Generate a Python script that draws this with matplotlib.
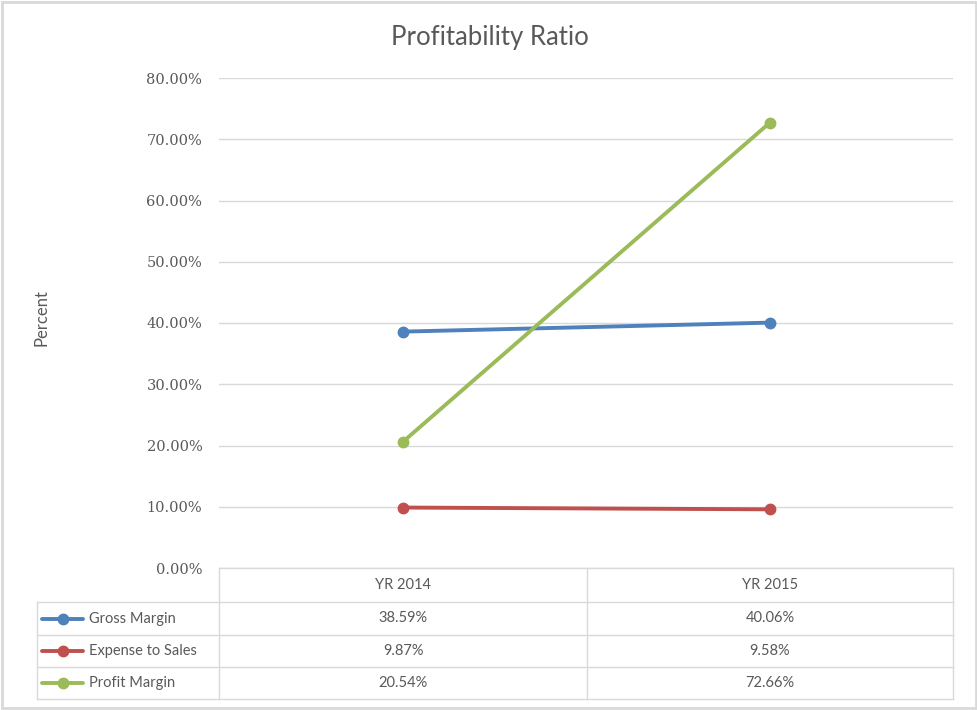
import matplotlib
matplotlib.use("Agg")
import matplotlib.pyplot as plt
from matplotlib.patches import Rectangle

# ---- data ----
categories = ["YR 2014", "YR 2015"]
gross_margin = [38.59, 40.06]
expense_to_sales = [9.87, 9.58]
profit_margin = [20.54, 72.66]
series_names = ["Gross Margin", "Expense to Sales", "Profit Margin"]
series_values = [gross_margin, expense_to_sales, profit_margin]
series_colors = ["#4F81BD", "#C0504D", "#9BBB59"]
y_ticks = [0, 10, 20, 30, 40, 50, 60, 70, 80]

W, H = 978, 710
fig = plt.figure(figsize=(W / 100, H / 100), dpi=100)
fig.patch.set_facecolor("white")

# overlay axes in pixel coordinates for borders and table
ov = fig.add_axes([0, 0, 1, 1], zorder=0)
ov.set_xlim(0, W)
ov.set_ylim(H, 0)
ov.axis("off")

grid_c = "#D9D9D9"
text_c = "#595959"

# outer border
ov.add_patch(Rectangle((1.5, 1.5), W - 3.5, H - 3.5, fill=False, ec=grid_c, lw=2))

# plot area
L, R, T, B = 219, 953, 78, 568
ax = fig.add_axes([L / W, (H - B) / H, (R - L) / W, (B - T) / H], zorder=2)
ax.set_facecolor("none")
x = list(range(len(categories)))
for name, vals, col in zip(series_names, series_values, series_colors):
    ax.plot(x, vals, color=col, lw=2.8, marker="o", ms=7.5, solid_capstyle="round", zorder=3)
ax.set_xlim(-0.5, len(categories) - 0.5)
ax.set_ylim(0, 80)
ax.set_yticks(y_ticks)
ax.set_yticklabels([f"{v:.2f}%" for v in y_ticks], family="DejaVu Serif", fontsize=10.5, color=text_c)
ax.set_xticks([])
ax.tick_params(axis="y", length=0, pad=12)
ax.grid(axis="y", color=grid_c, lw=1)
for s in ["top", "right", "left"]:
    ax.spines[s].set_visible(False)
ax.spines["bottom"].set_color(grid_c)
ax.spines["bottom"].set_linewidth(1)
ax.set_axisbelow(True)

# title and y label
fig.text(490 / W, 1 - 38 / H, "Profitability Ratio", ha="center", va="center",
         family="Lato", fontsize=18.5, color=text_c)
fig.text(42 / W, 1 - 318 / H, "Percent", rotation=90, ha="center", va="center",
         family="Lato", fontsize=12, color=text_c)

# data table
row_edges = [568, 602, 635, 667, 699]
col_edges = [219, 587, 953]
leg_left = 37
lw = 1
for cx in col_edges:
    ov.plot([cx, cx], [row_edges[0], row_edges[-1]], color=grid_c, lw=lw)
ov.plot([leg_left, leg_left], [row_edges[1], row_edges[-1]], color=grid_c, lw=lw)
for ry in row_edges[1:]:
    ov.plot([leg_left, col_edges[-1]], [ry, ry], color=grid_c, lw=lw)

tfont = dict(family="Lato", fontsize=10.5, color=text_c)
col_centers = [(col_edges[i] + col_edges[i + 1]) / 2 for i in range(len(categories))]
hdr_y = (row_edges[0] + row_edges[1]) / 2
for cx, cat in zip(col_centers, categories):
    ov.text(cx, hdr_y, cat, ha="center", va="center", **tfont)
for i, (name, vals, col) in enumerate(zip(series_names, series_values, series_colors)):
    ry = (row_edges[i + 1] + row_edges[i + 2]) / 2
    ov.plot([42, 83], [ry, ry], color=col, lw=2.8, solid_capstyle="round")
    ov.plot([63], [ry], marker="o", color=col, ms=7.5)
    ov.text(89, ry, name, ha="left", va="center", **tfont)
    for cx, v in zip(col_centers, vals):
        ov.text(cx, ry, f"{v:.2f}%", ha="center", va="center", **tfont)

fig.savefig("out.png", dpi=100, facecolor="white")
